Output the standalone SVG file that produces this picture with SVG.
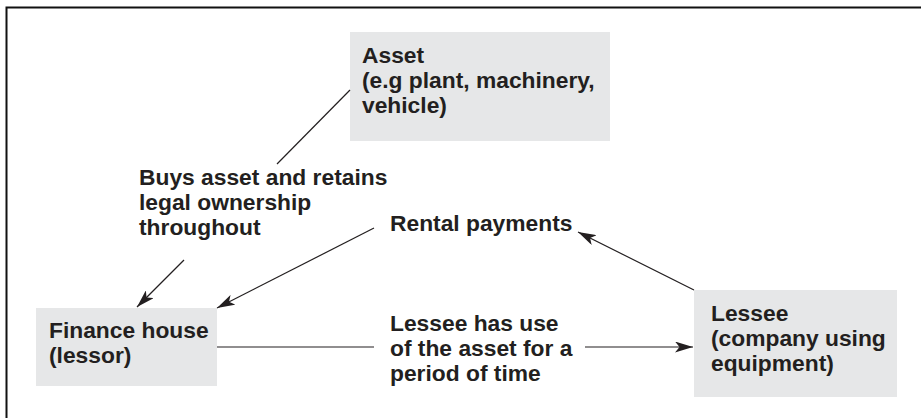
<svg xmlns="http://www.w3.org/2000/svg" width="921" height="418" viewBox="0 0 921 418">
<defs>
<style>
.box{fill:#e6e7e8}
.t{font-family:"Liberation Sans",Arial,sans-serif;font-weight:bold;font-size:22.8px;fill:#231f20}
.c{stroke:#231f20;stroke-width:1.2;fill:none}
</style>
<marker id="ah" viewBox="0 0 18 11" refX="18" refY="5.5" markerWidth="18" markerHeight="11" markerUnits="userSpaceOnUse" orient="auto">
<path d="M0,0 L18,5.5 L0,11 L4.5,5.5 Z" fill="#231f20"/>
</marker>
</defs>
<rect width="921" height="418" fill="#fff"/>
<path d="M6.5,418 V7.5 H921" fill="none" stroke="#111" stroke-width="2"/>
<g id="asset">
<rect class="box" x="350" y="32" width="260" height="109"/>
<text class="t" x="362" y="63">Asset</text>
<text class="t" x="362" y="88">(e.g plant, machinery,</text>
<text class="t" x="362" y="113">vehicle)</text>
</g>
<g id="finance">
<rect class="box" x="36" y="308" width="181" height="78"/>
<text class="t" x="49" y="338">Finance house</text>
<text class="t" x="49" y="363">(lessor)</text>
</g>
<g id="lessee">
<rect class="box" x="694" y="290" width="203" height="107"/>
<text class="t" x="711" y="321">Lessee</text>
<text class="t" x="711" y="346">(company using</text>
<text class="t" x="711" y="371">equipment)</text>
</g>
<g id="labels">
<text class="t" x="139" y="185">Buys asset and retains</text>
<text class="t" x="139" y="210">legal ownership</text>
<text class="t" x="139" y="235">throughout</text>
<text class="t" x="390" y="231">Rental payments</text>
<text class="t" x="390" y="331">Lessee has use</text>
<text class="t" x="390" y="356">of the asset for a</text>
<text class="t" x="390" y="381">period of time</text>
</g>
<g id="connectors">
<line class="c" x1="350" y1="90" x2="277" y2="164"/>
<line class="c" x1="184" y1="260" x2="137" y2="307" marker-end="url(#ah)"/>
<line class="c" x1="374" y1="228" x2="217" y2="308" marker-end="url(#ah)"/>
<line class="c" x1="694" y1="290" x2="578" y2="232" marker-end="url(#ah)"/>
<line class="c" x1="217" y1="347" x2="374" y2="347"/>
<line class="c" x1="585" y1="347" x2="693" y2="347" marker-end="url(#ah)"/>
</g>
</svg>
